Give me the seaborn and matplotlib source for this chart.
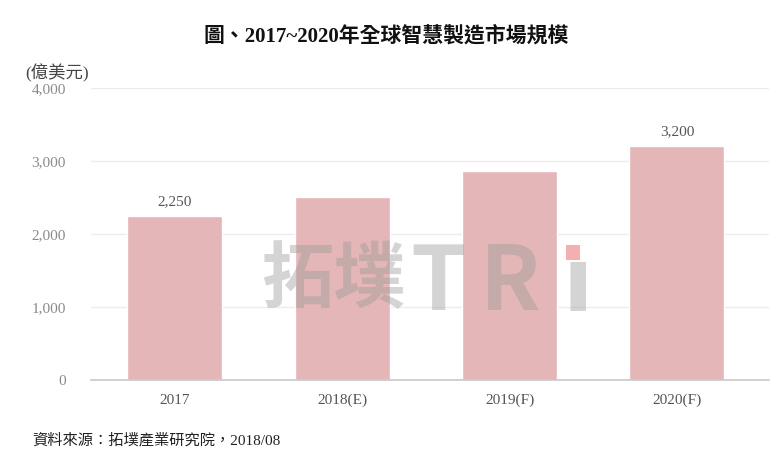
import matplotlib
matplotlib.use("Agg")
import matplotlib.pyplot as plt
from matplotlib.patches import Rectangle
import seaborn as sns
import pandas as pd

categories = ["2017", "2018(E)", "2019(F)", "2020(F)"]
values = [2250, 2510, 2860, 3200]
labels = ["2,250", "", "", "3,200"]
yticks = [0, 1000, 2000, 3000, 4000]
ytick_labels = ["0", "1,000", "2,000", "3,000", "4,000"]

sns.set_theme(style="white")
plt.rcParams['font.family'] = ['Liberation Serif', 'Noto Sans CJK TC', 'DejaVu Sans']

df = pd.DataFrame({"year": categories, "value": values})

W, H = 775, 466
fig = plt.figure(figsize=(7.75, 4.66), dpi=100)
ax = fig.add_axes([91/W, 1-380/H, (769-91)/W, (380-88)/H])

sns.barplot(data=df, x="year", y="value", color="#E5B6B7", width=0.567,
            saturation=1, ax=ax, zorder=2)

ax.set_ylim(0, 4000)
ax.set_xlim(-0.5, 3.55)
ax.set_yticks(yticks)
ax.set_yticklabels(ytick_labels)
ax.yaxis.grid(True, color="#ececec", linewidth=1, zorder=0)
ax.set_axisbelow(True)
for s in ["top", "right", "left"]:
    ax.spines[s].set_visible(False)
ax.spines["bottom"].set_color("#c8c8c8")
ax.spines["bottom"].set_linewidth(1.2)
ax.set_xlabel("")
ax.set_ylabel("")
ax.tick_params(axis="y", length=0, labelsize=11, labelcolor="#8a8a8a", pad=18)
ax.tick_params(axis="x", length=0, labelsize=11, labelcolor="#555555", pad=10)

for p, lab in zip(ax.patches, labels):
    if lab:
        ax.text(p.get_x() + p.get_width()/2, p.get_height() + 110, lab,
                ha="center", va="bottom", fontsize=11, color="#555555")

# watermark
wm = dict(va="center", fontweight="bold", color="#9a9a9a", alpha=0.42,
          family=['Noto Sans CJK TC', 'DejaVu Sans'])
fig.text(333/W, 1-281/H, "拓墣", ha="center", fontsize=52, **wm)
fig.text(438/W, 1-284/H, "T", ha="center", fontsize=64, **wm)
fig.text(510/W, 1-284/H, "R", ha="center", fontsize=64, **wm)
fig.text(578/W, 1-285/H, "ı", ha="center", fontsize=64, **wm)
fig.patches.append(Rectangle((566/W, 1-260/H), 14/W, 15/H, transform=fig.transFigure,
                             facecolor="#F4A6A8", edgecolor="none", alpha=0.9))

fig.text(386/W, 1-36/H, "圖、2017~2020年全球智慧製造市場規模", ha="center", va="center",
         fontsize=15, fontweight="bold", color="#111111",
         family=['Liberation Serif', 'Noto Sans CJK TC'])
fig.text(57/W, 1-73/H, "(億美元)", ha="center", va="center", fontsize=12.5,
         color="#444444", family=['Liberation Serif', 'Noto Sans CJK TC'])
fig.text(32/W, 1-440/H, "資料來源：拓墣產業研究院，2018/08", ha="left", va="center",
         fontsize=11, color="#222222", family=['Liberation Serif', 'Noto Sans CJK TC'])

fig.savefig("out.png", dpi=100, facecolor="white")
